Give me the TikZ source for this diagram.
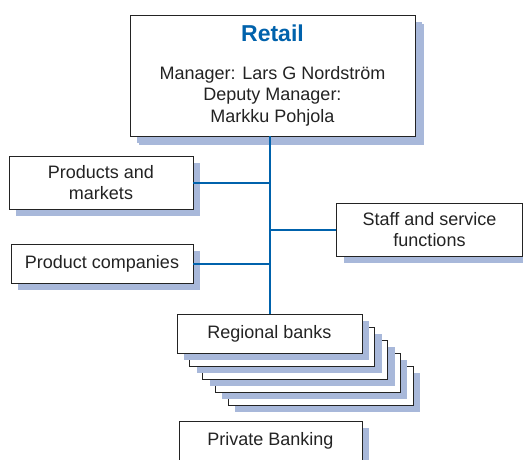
\documentclass[tikz,border=0pt]{standalone}
\usepackage{fontspec}
\setmainfont{Liberation Sans}
\usetikzlibrary{shadows,calc}
\usepackage{xcolor}

\definecolor{retailblue}{RGB}{0,98,172}
\definecolor{shadowblue}{RGB}{168,184,218}
\definecolor{inkgrey}{RGB}{35,35,35}

\tikzset{
  unit/.style={draw=inkgrey, line width=0.8pt, fill=white, text=inkgrey, align=center, inner sep=0pt,
    font=\fontsize{18}{21.5}\selectfont,
    drop shadow={shadow xshift=7pt, shadow yshift=-7pt, fill=shadowblue, opacity=1, draw=none}},
  bank/.style={unit, minimum width=185pt, minimum height=39pt},
  link/.style={draw=retailblue, line width=2pt}
}

\begin{document}
\begin{tikzpicture}[x=1pt, y=-1pt]
  \useasboundingbox (0,0) rectangle (523,459);
  \clip (0,0) rectangle (523,459);

  % head of the division
  \node[unit, minimum width=285pt, minimum height=121pt,
        drop shadow={shadow xshift=9pt, shadow yshift=-9pt, fill=shadowblue, opacity=1, draw=none}]
        (retail) at (272.5,75.5)
        {{\fontsize{23}{26}\selectfont\bfseries\color{retailblue}Retail}\\[16pt]
         Manager: Lars G Nordstr\"om\\Deputy Manager:\\Markku Pohjola};

  \node[unit, minimum width=184pt, minimum height=53pt] (products) at (101,182.5) {Products and\\markets};
  \node[unit, minimum width=182pt, minimum height=39pt] (prodcomp) at (102,263.5) {Product companies};
  \node[unit, minimum width=186pt, minimum height=53pt] (staff) at (429.5,229.5) {Staff and service\\functions};

  % stack of regional banks, back to front
  \foreach \k in {4,3,2,1}
    \node[bank] (regional\k) at ($(269.5,333.5)+(12.75*\k,13*\k)$) {};
  \node[bank] (regional) at (269.5,333.5) {Regional banks};

  \node[bank, minimum width=183pt] (private) at (270.5,440.5) {Private Banking};

  \draw[link] (regional.north) -- (regional.north |- retail.south);
  \draw[link] (products.east) -- (products.east -| regional.north);
  \draw[link] (prodcomp.east) -- (prodcomp.east -| regional.north);
  \draw[link] (staff.west) -- (staff.west -| regional.north);
\end{tikzpicture}
\end{document}
